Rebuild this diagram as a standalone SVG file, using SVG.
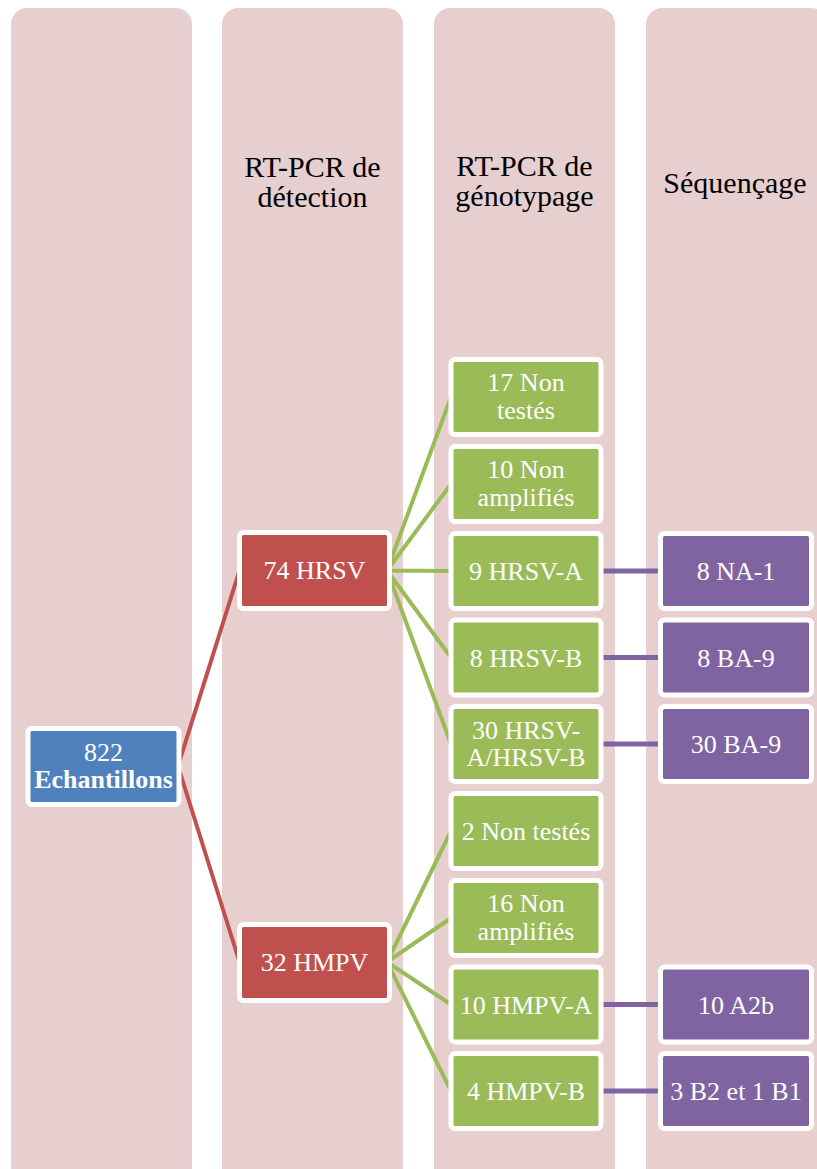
<svg xmlns="http://www.w3.org/2000/svg" width="817" height="1169" viewBox="0 0 817 1169">
<style>
.col{fill:#e7cfd0}
.hdr{font-family:'Liberation Serif','DejaVu Serif',serif;font-size:30px;fill:#000;text-anchor:middle}
.node{stroke:#fff;stroke-width:5}
.t{font-family:'Liberation Serif','DejaVu Serif',serif;font-size:26px;fill:#fff;text-anchor:middle}
.blue{fill:#4f81bd}.red{fill:#c0504d}.green{fill:#9bbb59}.purple{fill:#8064a2}
.cr{stroke:#c0504d;stroke-width:4;fill:none}
.cg{stroke:#9bbb59;stroke-width:4;fill:none}
.cp{stroke:#8064a2;stroke-width:5;fill:none;stroke-linecap:round}
</style>
<rect width="817" height="1169" fill="#fff"/>
<g id="columns">
<rect class="col" x="11" y="8" width="181" height="1200" rx="16"/>
<rect class="col" x="222" y="8" width="181" height="1200" rx="16"/>
<rect class="col" x="434" y="8" width="181" height="1200" rx="16"/>
<rect class="col" x="646" y="8" width="181" height="1200" rx="16"/>
<text class="hdr" x="312.5" y="177">RT-PCR de</text>
<text class="hdr" x="312.5" y="207">détection</text>
<text class="hdr" x="524.5" y="176">RT-PCR de</text>
<text class="hdr" x="524.5" y="206">génotypage</text>
<text class="hdr" x="735" y="193">Séquençage</text>
</g>
<g id="connectors">
<path class="cr" d="M178 766 L239.5 570.5 M178 766 L239.5 962"/>
<path class="cg" d="M387 570.5 L451 397 M387 570.5 L451 484 M387 570.5 L451 571 M387 570.5 L451 657.5 M387 570.5 L451 744"/>
<path class="cg" d="M387 962 L451 831 M387 962 L451 918 M387 962 L451 1004.5 M387 962 L451 1091"/>
<path class="cp" d="M601 571 L660 571 M601 657.5 L660 657.5 M601 744 L660 744 M601 1004.5 L660 1004.5 M601 1091 L660 1091"/>
</g>
<g id="n-echantillons"><rect class="node blue" x="28" y="728.5" width="151" height="76" rx="4"/><text class="t" x="103.5" y="761">822</text><text class="t" x="103.5" y="788" font-weight="bold">Echantillons</text></g>
<g id="n-hrsv"><rect class="node red" x="239.5" y="532.5" width="150" height="76" rx="4"/><text class="t" x="314.5" y="579">74 HRSV</text></g>
<g id="n-hmpv"><rect class="node red" x="239.5" y="924.5" width="150" height="76" rx="4"/><text class="t" x="314.5" y="971">32 HMPV</text></g>
<g id="n-g1"><rect class="node green" x="451" y="359.5" width="150" height="75" rx="4"/><text class="t" x="526" y="391">17 Non</text><text class="t" x="526" y="418.5">testés</text></g>
<g id="n-g2"><rect class="node green" x="451" y="446.5" width="150" height="75" rx="4"/><text class="t" x="526" y="478">10 Non</text><text class="t" x="526" y="505.5">amplifiés</text></g>
<g id="n-g3"><rect class="node green" x="451" y="533.5" width="150" height="75" rx="4"/><text class="t" x="526" y="580">9 HRSV-A</text></g>
<g id="n-g4"><rect class="node green" x="451" y="620" width="150" height="75" rx="4"/><text class="t" x="526" y="666.5">8 HRSV-B</text></g>
<g id="n-g5"><rect class="node green" x="451" y="706.5" width="150" height="75" rx="4"/><text class="t" x="526" y="738.5">30 HRSV-</text><text class="t" x="526" y="766">A/HRSV-B</text></g>
<g id="n-g6"><rect class="node green" x="451" y="793.5" width="150" height="75" rx="4"/><text class="t" x="526" y="840">2 Non testés</text></g>
<g id="n-g7"><rect class="node green" x="451" y="880.5" width="150" height="75" rx="4"/><text class="t" x="526" y="912">16 Non</text><text class="t" x="526" y="939.5">amplifiés</text></g>
<g id="n-g8"><rect class="node green" x="451" y="967" width="150" height="75" rx="4"/><text class="t" x="526" y="1013.5">10 HMPV-A</text></g>
<g id="n-g9"><rect class="node green" x="451" y="1053.5" width="150" height="75" rx="4"/><text class="t" x="526" y="1100">4 HMPV-B</text></g>
<g id="n-p1"><rect class="node purple" x="660.5" y="533.5" width="151" height="75" rx="4"/><text class="t" x="736" y="580">8 NA-1</text></g>
<g id="n-p2"><rect class="node purple" x="660.5" y="620" width="151" height="75" rx="4"/><text class="t" x="736" y="666.5">8 BA-9</text></g>
<g id="n-p3"><rect class="node purple" x="660.5" y="706.5" width="151" height="75" rx="4"/><text class="t" x="736" y="753">30 BA-9</text></g>
<g id="n-p4"><rect class="node purple" x="660.5" y="967" width="151" height="75" rx="4"/><text class="t" x="736" y="1013.5">10 A2b</text></g>
<g id="n-p5"><rect class="node purple" x="660.5" y="1053.5" width="151" height="75" rx="4"/><text class="t" x="736" y="1100">3 B2 et 1 B1</text></g>
</svg>
